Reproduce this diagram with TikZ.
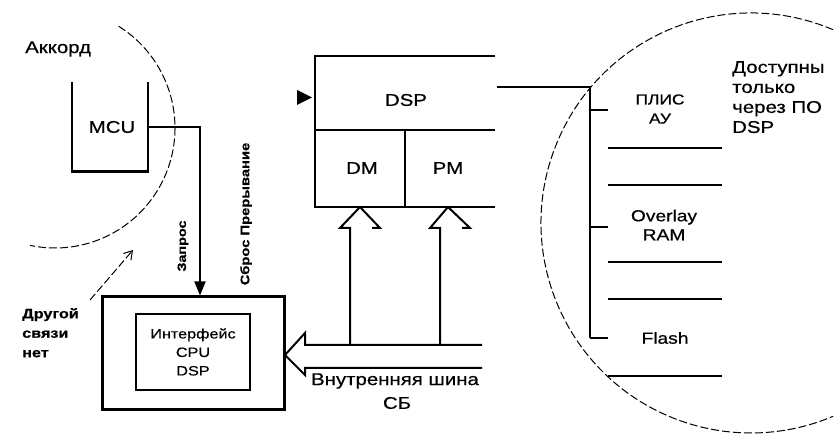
\documentclass[tikz,border=0pt]{standalone}
\usepackage{fontspec}
\setmainfont{Liberation Sans}[FakeStretch=1.2,FakeBold=0.6]
\usetikzlibrary{arrows.meta,positioning}
\tikzset{
  ln/.style={line width=2pt,black},
  thk/.style={line width=3pt,black},
  dsh/.style={line width=1pt,dash pattern=on 8pt off 3pt},
  txt/.style={inner sep=0pt,font=\fontsize{17}{20}\selectfont},
  vtxt/.style={inner sep=0pt,rotate=90,font=\bfseries\fontsize{12}{15}\selectfont},
  hol/.style={line width=2pt,line join=miter},
  memtxt/.style={txt,align=center,font=\fontsize{16}{19}\selectfont}
}

\begin{document}
\begin{tikzpicture}[x=1pt,y=1pt]
\useasboundingbox (0,0) rectangle (834,435);
% left part: Аккорд
\draw[dsh] (55,307) ++(58:120) arc[start angle=58,end angle=-102,radius=120];
\node[txt,anchor=west] (akk) at (25,386) {Аккорд};
\draw[ln] (72,353) -- (72,263);
\draw[thk] (71,263) -- (149,263);
\draw[ln] (148,263) -- (148,353);
\node[txt] (mcu) at (112,308) {MCU};
\coordinate (mcuR) at (148,308);
\coordinate (tap) at (200,308);
% interface box
\node[draw,line width=3pt,minimum width=182,minimum height=113,inner sep=0pt] (ifc) at (193,81.5) {};
\node[draw,line width=2.4pt,minimum width=114,minimum height=76,inner sep=0pt,align=center,
  font=\fontsize{13.5}{18.5}\selectfont] (cpu) at (193,83) {Интерфейс\\CPU\\DSP};
\draw[ln,-{Triangle[length=14pt,width=11pt]}] (mcuR) -- (tap) -- (tap |- ifc.north);
\node[vtxt] (req) at (183,189) {Запрос};
\node[vtxt,font=\bfseries\fontsize{12.3}{15}\selectfont] (irq) at (246,221) {Сброс Прерывание};
\node[txt,anchor=north west,align=left,font=\bfseries\fontsize{13.5}{19.5}\selectfont] (other) at (22,127) {Другой\\связи\\нет};
\coordinate (ptrA) at (90,135);
\coordinate (ptrB) at (133,185);
\draw[dsh,-{Straight Barb[length=8pt,width=10pt]}] (ptrA) -- (ptrB);
% DSP block
\draw[ln] (495,379) -- (315,379) -- (315,228) -- (495,228);
\draw[ln] (315,305) -- (495,305);
\draw[ln] (405,305) -- (405,228);
\node[txt] (dsp) at (406,335) {DSP};
\node[txt] (dm) at (362,267) {DM};
\node[txt] (pm) at (448,267) {PM};
\fill (297,345) -- (312,337.5) -- (297,330) -- cycle;
% internal bus
\draw[hol] (482,90) -- (305,90) -- (305,102) -- (285,80) -- (305,60) -- (305,67) -- (482,67);
\draw[hol] (350,90) -- (350,207) -- (340,207) -- (360,228) -- (380,207) -- (372,207);
\draw[hol] (440,90) -- (440,207) -- (430,207) -- (448,228) -- (470,207) -- (462,207);
\node[txt] (bus) at (395,54) {Внутренняя шина};
\node[txt] (sb) at (397,32) {СБ};
% memories behind DSP
\draw[dsh] (751,212) ++(67:210) arc[start angle=67,end angle=293,radius=210];
\coordinate (dspR) at (497,348);
\coordinate (bend) at (590,348);
\draw[ln] (dspR) -- (bend) -- (590,97);
\foreach \y in {325,208,97}{\draw[ln] (590,\y) -- (608,\y);}
\foreach \y in {287,173,59}{\draw[line width=2.6pt] (608,\y) -- (722,\y);}
\foreach \y in {250,136}{\draw[ln] (608,\y) -- (722,\y);}
\node[memtxt,font=\fontsize{14.5}{19}\selectfont] (pld) at (660,326) {ПЛИС\\АУ};
\node[memtxt] (ovl) at (664,210) {Overlay\\RAM};
\node[memtxt] (fls) at (665,97) {Flash};
\node[txt,anchor=north west,align=left,font=\fontsize{17}{20}\selectfont] (note) at (732,374) {Доступны\\только\\через ПО\\DSP};
\end{tikzpicture}
\end{document}
